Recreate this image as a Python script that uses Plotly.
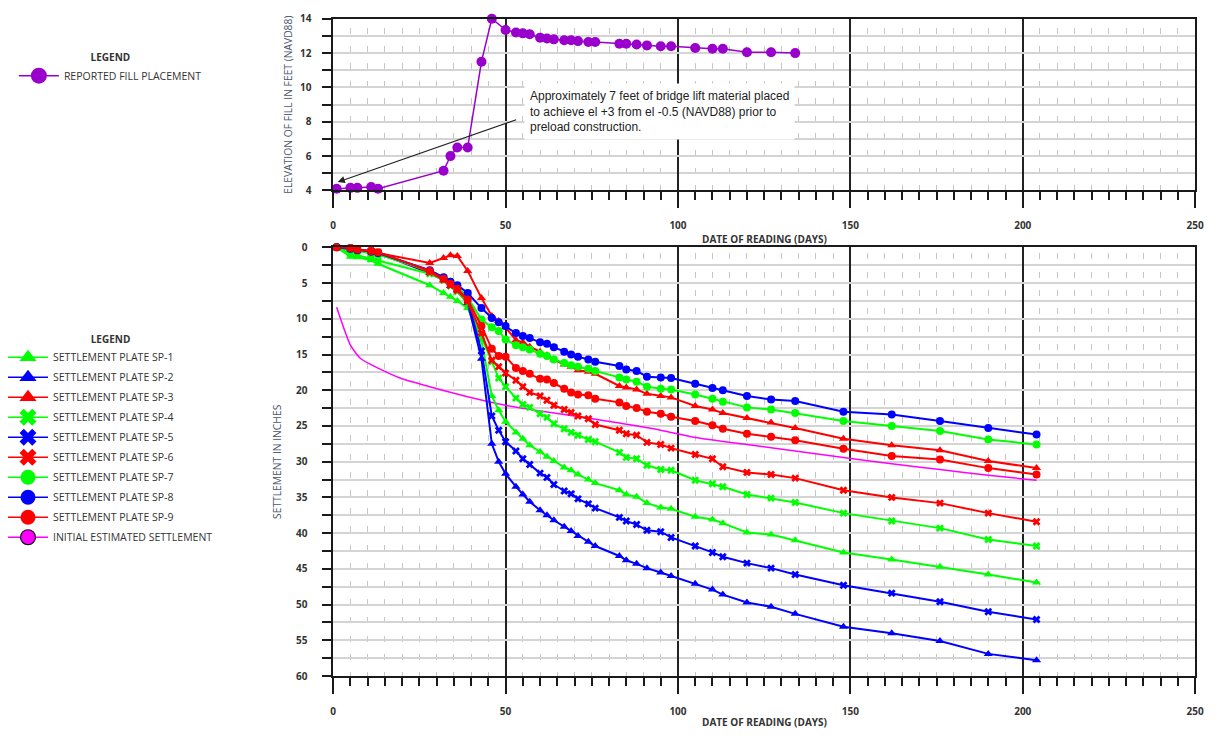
import plotly.graph_objects as go

W, H = 1217, 736

# ---- reported fill placement (elevation, ft NAVD88) ----
fill_days = [1, 5, 7, 11, 13, 32, 34, 36, 39, 43, 46, 50, 53, 55, 57, 60, 62, 64,
             67, 69, 71, 74, 76, 83, 85, 88, 91, 95, 98, 105, 110, 113, 120, 127, 134]
fill_elev = [4.1, 4.15, 4.15, 4.2, 4.1, 5.15, 6.0, 6.5, 6.5, 11.5, 14.0, 13.35, 13.2,
             13.15, 13.1, 12.9, 12.85, 12.8, 12.75, 12.75, 12.7, 12.65, 12.65, 12.55,
             12.55, 12.5, 12.45, 12.4, 12.4, 12.3, 12.25, 12.25, 12.05, 12.05, 12.0]

# ---- settlement plate readings (inches) ----
plate_days = [1, 5, 7, 11, 13, 28, 32, 34, 36, 39, 43, 46, 48, 50, 53, 55, 57, 60, 62,
              64, 67, 69, 71, 74, 76, 83, 85, 88, 91, 95, 98, 105, 110, 113, 120, 127,
              134, 148, 162, 176, 190, 204]

sp1 = [0, 1.3, 1.4, 1.8, 2.3, 5.3, 6.4, 6.9, 7.5, 8.5, 13.0, 20.8, 22.8, 24.4, 25.9,
       26.8, 27.7, 28.6, 29.3, 29.9, 30.8, 31.2, 31.8, 32.5, 33.0, 34.0, 34.6, 34.9,
       35.8, 36.4, 36.6, 37.7, 38.1, 38.6, 39.9, 40.2, 41.0, 42.7, 43.7, 44.7, 45.8, 46.9]
sp2 = [0, 0.2, 0.4, 0.6, 0.8, 3.6, 4.6, 5.4, 6.0, 7.8, 15.6, 27.5, 30.0, 31.7, 33.5,
       34.6, 35.6, 36.8, 37.5, 38.2, 39.1, 39.7, 40.4, 41.2, 41.8, 43.2, 43.8, 44.3,
       44.9, 45.5, 46.0, 47.1, 47.9, 48.6, 49.7, 50.3, 51.3, 53.1, 54.0, 55.1, 56.9, 57.8]
sp3 = [0, 0.1, 0.3, 0.5, 0.8, 2.2, 1.5, 1.1, 1.2, 3.3, 7.1, 9.6, 10.3, 11.2, 13.0,
       13.3, 13.9, 14.6, 15.1, 15.7, 16.4, 16.7, 17.2, 17.4, 17.7, 19.4, 19.6, 19.9,
       20.5, 20.8, 21.0, 22.2, 22.7, 23.2, 23.9, 24.5, 25.3, 26.8, 27.7, 28.4, 29.9, 30.9]
sp4 = [0, 0.9, 1.1, 1.6, 1.9, 3.7, 4.6, 5.4, 6.2, 7.9, 12.5, 16.0, 18.3, 19.5, 21.1,
       22.0, 22.4, 23.3, 23.8, 24.7, 25.4, 25.9, 26.3, 26.9, 27.2, 28.7, 29.4, 29.6,
       30.5, 31.1, 31.2, 32.6, 33.1, 33.5, 34.6, 35.1, 35.7, 37.2, 38.3, 39.3, 40.9, 41.8]
sp5 = [0, 0.2, 0.3, 0.5, 0.7, 3.4, 4.3, 5.0, 5.8, 7.4, 14.5, 23.6, 25.6, 27.2, 28.5,
       29.6, 30.4, 31.6, 32.2, 33.2, 34.1, 34.5, 35.2, 35.9, 36.5, 37.8, 38.3, 38.8,
       39.6, 39.8, 40.6, 41.8, 42.7, 43.3, 44.2, 44.9, 45.8, 47.3, 48.4, 49.6, 51.0, 52.1]
sp6 = [0, 0.1, 0.3, 0.5, 0.7, 3.5, 4.5, 5.3, 6.0, 7.6, 12.0, 15.8, 16.7, 17.6, 18.6,
       19.5, 20.3, 20.8, 21.4, 22.1, 22.7, 23.1, 23.6, 24.0, 24.8, 25.6, 26.1, 26.3,
       27.3, 27.6, 28.1, 29.0, 29.6, 30.7, 31.5, 31.8, 32.3, 34.0, 35.0, 35.8, 37.2, 38.4]
sp7 = [0, 0.3, 0.5, 0.8, 1.0, 3.3, 4.3, 4.8, 5.5, 7.0, 10.1, 11.2, 11.7, 12.9, 13.7,
       14.0, 14.3, 14.9, 15.2, 15.7, 16.2, 16.5, 16.7, 17.0, 17.3, 18.2, 18.5, 18.8,
       19.5, 19.8, 19.9, 20.6, 21.2, 21.6, 22.4, 22.7, 23.2, 24.3, 25.0, 25.7, 26.9, 27.6]
sp8 = [0, 0.2, 0.4, 0.6, 0.8, 3.2, 4.2, 4.8, 5.3, 6.4, 8.5, 9.9, 10.5, 11.0, 12.0,
       12.4, 12.7, 13.3, 13.5, 14.0, 14.6, 15.0, 15.3, 15.7, 16.0, 16.6, 17.1, 17.3,
       18.1, 18.2, 18.3, 19.1, 19.7, 20.0, 20.8, 21.3, 21.5, 23.0, 23.4, 24.3, 25.3, 26.2]
sp9 = [0, 0.1, 0.3, 0.5, 0.7, 3.3, 4.4, 5.1, 5.8, 7.3, 11.0, 14.2, 15.2, 15.3, 16.9,
       17.3, 17.7, 18.4, 18.5, 19.0, 19.8, 20.3, 20.6, 20.7, 21.2, 21.7, 22.2, 22.5,
       23.0, 23.3, 23.7, 24.3, 24.9, 25.4, 26.1, 26.5, 27.0, 28.2, 29.2, 29.7, 30.9, 31.8]

# ---- initial estimated settlement curve (inches) ----
est_days = [1, 5, 8, 13, 20, 28, 39, 50, 60, 70, 83, 95, 105, 120, 134, 148, 162, 176, 190, 204]
est_settle = [8.4, 13.7, 15.6, 16.9, 18.4, 19.5, 20.9, 22.1, 22.9, 23.6, 24.6, 25.6,
              26.6, 27.6, 28.5, 29.4, 30.3, 31.1, 31.9, 32.6]

GREEN, BLUE, RED = "#00ff00", "#0000ff", "#ff0000"
MAGENTA, PURPLE = "#ff00ff", "#9900cc"
INK = "#1a1a1a"

plates = [
    ("SETTLEMENT PLATE SP-1", sp1, GREEN, "triangle-up"),
    ("SETTLEMENT PLATE SP-2", sp2, BLUE, "triangle-up"),
    ("SETTLEMENT PLATE SP-3", sp3, RED, "triangle-up"),
    ("SETTLEMENT PLATE SP-4", sp4, GREEN, "x"),
    ("SETTLEMENT PLATE SP-5", sp5, BLUE, "x"),
    ("SETTLEMENT PLATE SP-6", sp6, RED, "x"),
    ("SETTLEMENT PLATE SP-7", sp7, GREEN, "circle"),
    ("SETTLEMENT PLATE SP-8", sp8, BLUE, "circle"),
    ("SETTLEMENT PLATE SP-9", sp9, RED, "circle"),
]


def fx(p):
    return p / W


def fy(p):
    return 1 - p / H


X_DOM = [fx(333.5), fx(1204)]
TOP_DOM = [fy(187), fy(12)]
BOT_DOM = [fy(682), fy(245)]

TICKFONT = dict(family="Open Sans", size=10, color="#333333", weight="bold")
LEGFONT = dict(family="Open Sans", size=10.5, color="#333333")
LEGTITLE = dict(family="Open Sans", size=10, color="#333333", weight="bold")

fig = go.Figure()

# fill placement history
fig.add_trace(go.Scatter(
    x=fill_days, y=fill_elev, xaxis="x", yaxis="y", mode="lines+markers",
    line=dict(color=PURPLE, width=1.5), marker=dict(size=10, color=PURPLE),
    cliponaxis=False, showlegend=False, hoverinfo="skip"))

# estimated settlement curve
fig.add_trace(go.Scatter(
    x=est_days, y=est_settle, xaxis="x2", yaxis="y2", mode="lines",
    line=dict(color=MAGENTA, width=1.5, shape="spline", smoothing=0.6),
    showlegend=False, hoverinfo="skip"))

# settlement plates
for name, vals, color, sym in plates:
    size = 7 if sym == "x" else 8
    fig.add_trace(go.Scatter(
        x=plate_days, y=vals, xaxis="x2", yaxis="y2", mode="lines+markers",
        line=dict(color=color, width=2),
        marker=dict(symbol=sym, size=size, color=color, line=dict(width=0)),
        cliponaxis=False, showlegend=False, name=name, hoverinfo="skip"))

# legend keys (larger symbols than the plotted markers)
fig.add_trace(go.Scatter(
    x=[None], y=[None], xaxis="x", yaxis="y", mode="lines+markers",
    name="REPORTED FILL PLACEMENT", line=dict(color=PURPLE, width=1.5),
    marker=dict(size=16, color=PURPLE), legend="legend", showlegend=True))

for i, (name, vals, color, sym) in enumerate(plates):
    fig.add_trace(go.Scatter(
        x=[None], y=[None], xaxis="x2", yaxis="y2", mode="lines+markers", name=name,
        line=dict(color=color, width=1.5),
        marker=dict(symbol=sym, size=15, color=color, line=dict(width=0)),
        legend="legend2", legendgroup=f"g{i}", showlegend=True))
fig.add_trace(go.Scatter(
    x=[None], y=[None], xaxis="x2", yaxis="y2", mode="lines+markers",
    name="INITIAL ESTIMATED SETTLEMENT", line=dict(color=MAGENTA, width=1.5),
    marker=dict(size=15, color=MAGENTA, line=dict(color="#111111", width=1.2)),
    legend="legend2", legendgroup="g9", showlegend=True))


def x_axis(anchor, griddash):
    return dict(
        domain=X_DOM, anchor=anchor, range=[0, 250], tick0=0, dtick=50,
        ticks="outside", ticklen=16, tickwidth=1.5, tickcolor=INK,
        showline=True, linecolor=INK, linewidth=1.5, mirror=True,
        showgrid=True, gridcolor="#222222", gridwidth=1.5, zeroline=False,
        tickfont=TICKFONT, ticklabelstandoff=9, fixedrange=True,
        minor=dict(dtick=5, tick0=0, ticks="outside", ticklen=8, tickwidth=1.5,
                   tickcolor=INK, showgrid=True, gridcolor="#c6c6c6", gridwidth=1.3,
                   griddash=griddash))


def y_axis(anchor, dom, rng, dtick, minor_dtick, standoff):
    return dict(
        domain=dom, anchor=anchor, range=rng, tick0=0, dtick=dtick,
        ticks="outside", ticklen=9, tickwidth=1.5, tickcolor=INK,
        showline=True, linecolor=INK, linewidth=1.5, mirror=True,
        showgrid=True, gridcolor="#d4d4d4", gridwidth=1.5, zeroline=False,
        tickfont=TICKFONT, ticklabelstandoff=standoff, fixedrange=True,
        minor=dict(dtick=minor_dtick, ticks="outside", ticklen=9, tickwidth=1.5,
                   tickcolor=INK, showgrid=True, gridcolor="#d4d4d4", gridwidth=1.5))


def y_major(anchor, over, dom, rng, tick0):
    # heavy lines every 10 units, with long ticks
    return dict(
        domain=dom, anchor=anchor, overlaying=over, side="left", range=rng,
        tick0=tick0, dtick=10, ticks="outside", ticklen=18, tickwidth=1.5,
        tickcolor=INK, showticklabels=False, showline=False, showgrid=True,
        gridcolor="#222222", gridwidth=1.5, zeroline=False, fixedrange=True)


fig.update_layout(
    width=W, height=H, margin=dict(l=0, r=0, t=0, b=0),
    paper_bgcolor="white", plot_bgcolor="white",
    xaxis=x_axis("y", "0px,9.5px,6px,1.95px"),
    yaxis=y_axis("x", TOP_DOM, [4, 14], 2, 1, 9),
    yaxis3=y_major("x", "y", TOP_DOM, [4, 14], 4),
    xaxis2=x_axis("y2", "0px,6.1px,6px,6.1px"),
    yaxis2=y_axis("x2", BOT_DOM, [60, 0], 5, 2.5, 13),
    yaxis4=y_major("x2", "y2", BOT_DOM, [60, 0], 0),
    legend=dict(x=fx(11), y=fy(42), xanchor="left", yanchor="top",
                bgcolor="rgba(0,0,0,0)", font=LEGFONT, itemwidth=40,
                title=dict(text="LEGEND", side="top center", font=LEGTITLE)),
    legend2=dict(x=fx(0), y=fy(329), xanchor="left", yanchor="top",
                 bgcolor="rgba(0,0,0,0)", font=LEGFONT, itemwidth=40,
                 tracegroupgap=1,
                 title=dict(text="LEGEND", side="top center", font=LEGTITLE)),
    hovermode=False,
)

TITLEFONT = dict(family="Open Sans", size=10, color="#333333", weight="bold")
YTITLEFONT = dict(family="Open Sans", size=10.3, color="#4a5670")
XMID = (X_DOM[0] + X_DOM[1]) / 2

fig.add_annotation(x=XMID, y=fy(237), xref="paper", yref="paper", xanchor="center",
                   yanchor="middle", text="DATE OF READING (DAYS)", showarrow=False,
                   font=TITLEFONT)
fig.add_annotation(x=XMID, y=fy(729), xref="paper", yref="paper", xanchor="center",
                   yanchor="middle", text="DATE OF READING (DAYS)", showarrow=False,
                   font=TITLEFONT)
fig.add_annotation(x=fx(287), y=(TOP_DOM[0] + TOP_DOM[1]) / 2, xref="paper",
                   yref="paper", xanchor="center", yanchor="middle",
                   text="ELEVATION OF FILL IN FEET (NAVD88)", textangle=-90,
                   showarrow=False, font=YTITLEFONT)
fig.add_annotation(x=fx(276), y=(BOT_DOM[0] + BOT_DOM[1]) / 2, xref="paper",
                   yref="paper", xanchor="center", yanchor="middle",
                   text="SETTLEMENT IN INCHES", textangle=-90,
                   showarrow=False, font=YTITLEFONT)

# note about the bridge lift material
fig.add_annotation(x=1.3, y=4.49, xref="x", yref="y", ax=53.5, ay=8.15,
                   axref="x", ayref="y", text="", showarrow=True, arrowhead=2,
                   arrowsize=1.3, arrowwidth=1.1, arrowcolor="#222222")
fig.add_annotation(x=55.2, y=8.6, xref="x", yref="y", xanchor="left", yanchor="middle",
                   align="left", showarrow=False, bgcolor="white", borderpad=5,
                   text=("Approximately 7 feet of bridge lift material placed<br>"
                         "to achieve el +3 from el -0.5 (NAVD88) prior to<br>"
                         "preload construction."),
                   font=dict(family="Liberation Sans", size=12, color="#222222"))

fig.write_html("out.html")
